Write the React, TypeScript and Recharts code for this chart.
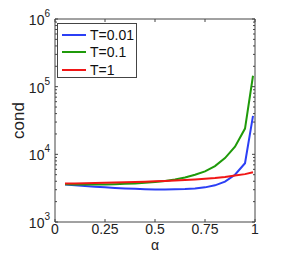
import React from 'react';
import { LineChart, Line, XAxis, YAxis } from 'recharts';

// condition number vs alpha for three temperatures
const alpha = [0.05, 0.1, 0.15, 0.2, 0.25, 0.3, 0.35, 0.4, 0.45, 0.5, 0.55, 0.6, 0.65, 0.7, 0.75, 0.8, 0.85, 0.9, 0.95, 0.99];
const condT001 = [3570, 3480, 3400, 3320, 3250, 3190, 3130, 3090, 3050, 3030, 3030, 3040, 3070, 3130, 3250, 3480, 3950, 5000, 7400, 37000];
const condT01 = [3600, 3580, 3570, 3570, 3590, 3620, 3660, 3720, 3800, 3900, 4050, 4250, 4550, 5000, 5600, 6700, 8800, 13000, 24000, 145000];
const condT1 = [3700, 3720, 3740, 3770, 3800, 3830, 3860, 3900, 3940, 3990, 4050, 4110, 4180, 4260, 4350, 4460, 4620, 4850, 5100, 5450];

const xTicks = [0, 0.25, 0.5, 0.75, 1];
const xTickLabels = ['0', '0.25', '0.5', '0.75', '1'];
const decades = [3, 4, 5];
const yTicks = [...decades.flatMap(d => [1, 2, 3, 4, 5, 6, 7, 8, 9].map(k => k * Math.pow(10, d))), 1e6];

const series = [
  { key: 'T001', name: 'T=0.01', color: '#2b3ff5' },
  { key: 'T01', name: 'T=0.1', color: '#1f9a0a' },
  { key: 'T1', name: 'T=1', color: '#f01616' },
];

const data = alpha.map((a, i) => ({ a, T001: condT001[i], T01: condT01[i], T1: condT1[i] }));

const FONT = '"Liberation Sans", Arial, sans-serif';
const AXIS = '#444';

const isMajor = (v: number) => Math.abs(Math.log10(v) - Math.round(Math.log10(v))) < 1e-9;

const BottomTick = (props: any) => {
  const { x, y, payload } = props;
  const i = xTicks.indexOf(payload.value);
  return (
    <g>
      <line x1={x} x2={x} y1={y} y2={y - 3} stroke={AXIS} />
      <text x={x} y={y + 12} textAnchor="middle" fontSize={14} fontFamily={FONT} fill="#222">
        {xTickLabels[i]}
      </text>
    </g>
  );
};

const TopTick = (props: any) => {
  const { x, y } = props;
  return <line x1={x} x2={x} y1={y} y2={y + 3} stroke={AXIS} />;
};

const LeftTick = (props: any) => {
  const { x, y, payload } = props;
  const major = isMajor(payload.value);
  const exp = Math.round(Math.log10(payload.value));
  return (
    <g>
      <line x1={x} x2={x + (major ? 3 : 2)} y1={y} y2={y} stroke={AXIS} />
      {major && (
        <text x={x - 5} y={y + 6} textAnchor="end" fontSize={14} fontFamily={FONT} fill="#222">
          10<tspan dy={-8} fontSize={10}>{exp}</tspan>
        </text>
      )}
    </g>
  );
};

const RightTick = (props: any) => {
  const { x, y, payload } = props;
  const major = isMajor(payload.value);
  return <line x1={x} x2={x - (major ? 3 : 2)} y1={y} y2={y} stroke={AXIS} />;
};

const LegendBox = () => (
  <div
    style={{
      position: 'absolute',
      left: 57,
      top: 23,
      width: 80,
      height: 55,
      border: `1px solid ${AXIS}`,
      background: '#fff',
      boxSizing: 'border-box',
      padding: '2px 0 0 4px',
      fontFamily: FONT,
      fontSize: 14,
      color: '#111',
    }}
  >
    {series.map(s => (
      <div key={s.key} style={{ display: 'flex', alignItems: 'center', height: 17.5 }}>
        <div style={{ width: 24, height: 2, background: s.color, marginRight: 4 }} />
        <span>{s.name}</span>
      </div>
    ))}
  </div>
);

export default function App() {
  return (
    <div style={{ position: 'absolute', left: 0, top: 0, width: 295, height: 254, background: '#fff' }}>
      <LineChart width={295} height={254} data={data} margin={{ top: 0, right: 0, bottom: 0, left: 0 }}>
        <XAxis
          dataKey="a"
          type="number"
          domain={[0, 1]}
          ticks={xTicks}
          interval={0}
          height={32}
          tickSize={0}
          tickMargin={0}
          tickLine={false}
          axisLine={{ stroke: AXIS }}
          tick={<BottomTick />}
          label={{
            content: ({ viewBox }: any) => (
              <text x={viewBox.x + viewBox.width / 2} y={viewBox.y + 28} textAnchor="middle" fontSize={14} fontFamily={FONT} fill="#222">
                α
              </text>
            ),
          }}
        />
        <XAxis
          xAxisId="top"
          orientation="top"
          dataKey="a"
          type="number"
          domain={[0, 1]}
          ticks={xTicks}
          interval={0}
          height={19}
          tickSize={0}
          tickMargin={0}
          tickLine={false}
          axisLine={{ stroke: AXIS }}
          tick={<TopTick />}
        />
        <YAxis
          scale="log"
          domain={[1000, 1000000]}
          allowDataOverflow
          ticks={yTicks}
          interval={0}
          width={55}
          tickSize={0}
          tickMargin={0}
          tickLine={false}
          axisLine={{ stroke: AXIS }}
          tick={<LeftTick />}
          label={{
            content: ({ viewBox }: any) => {
              const cx = 18;
              const cy = viewBox.y + viewBox.height / 2;
              return (
                <text x={cx} y={cy} transform={`rotate(-90 ${cx} ${cy})`} textAnchor="middle" dominantBaseline="central" fontSize={17} fontFamily={FONT} fill="#222">
                  cond
                </text>
              );
            },
          }}
        />
        <YAxis
          yAxisId="right"
          orientation="right"
          scale="log"
          domain={[1000, 1000000]}
          allowDataOverflow
          ticks={yTicks}
          interval={0}
          width={40}
          tickSize={0}
          tickMargin={0}
          tickLine={false}
          axisLine={{ stroke: AXIS }}
          tick={<RightTick />}
        />
        {series.map(s => (
          <Line
            key={s.key}
            dataKey={s.key}
            name={s.name}
            stroke={s.color}
            strokeWidth={2}
            dot={false}
            isAnimationActive={false}
          />
        ))}
      </LineChart>
      <LegendBox />
    </div>
  );
}
